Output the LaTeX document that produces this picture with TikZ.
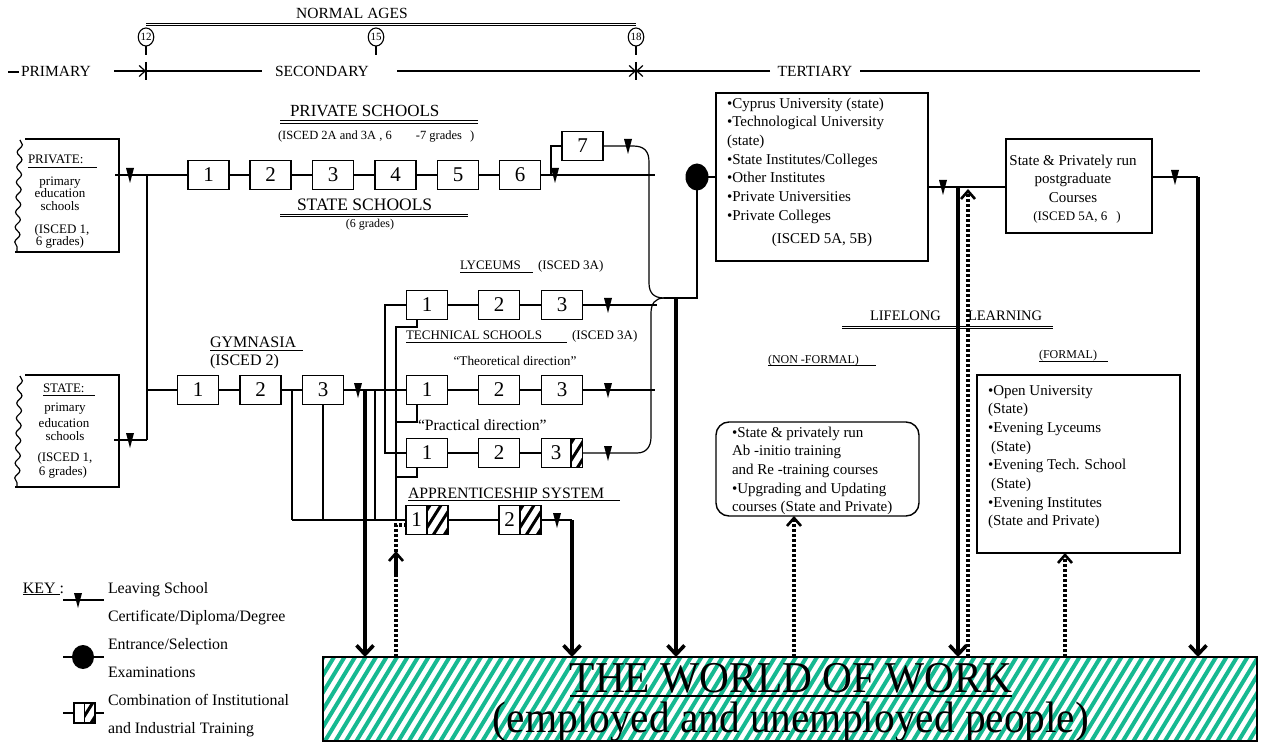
\documentclass[tikz,border=0pt]{standalone}
\usepackage{fontspec}
\setmainfont{Liberation Serif}
\usetikzlibrary{arrows.meta,decorations.pathmorphing,shapes.geometric,calc}
\definecolor{hatchgreen}{RGB}{22,185,145}
\newcommand{\fsz}[2]{\fontsize{#1}{#2}\selectfont}
\newcommand{\bhatch}[4]{%
  \begin{scope}
    \clip (#1,#2) rectangle (#3,#4);
    \foreach \k in {-40,-29,...,40} \draw[line width=3pt] (#1+\k,#4+4) -- ++(24,-38);
  \end{scope}}
\begin{document}
\begin{tikzpicture}[x=1pt,y=-1pt,
  every node/.style={inner sep=0pt,outer sep=0pt},
  grade/.style={draw,line width=1.3pt,minimum width=41pt,minimum height=29pt,font=\fsz{21}{21}},
  conn/.style={line width=1.2pt},
  boxframe/.style={draw,line width=1.4pt},
  bigarrow/.style={line width=3.6pt,-{Straight Barb[length=9pt,width=17pt]}},
  dotline/.style={line width=3.4pt,dash pattern=on 3pt off 2pt},
  dotarrow/.style={dotline,-{Straight Barb[length=8pt,width=14pt,line width=2.6pt]}},
  rulerarrow/.style={line width=1.2pt,-{Straight Barb[length=6pt,width=11pt]}},
  dblline/.style={line width=1pt,double,double distance=1.3pt},
  agecirc/.style={draw,ellipse,line width=1.1pt,minimum width=15pt,minimum height=18pt,font=\fsz{11}{11}},
  ulin/.style={line width=0.8pt},
  t12/.style={font=\fsz{12}{12}},
  t13/.style={font=\fsz{13}{13}},
  t15/.style={font=\fsz{15.5}{15.5}},
  t16/.style={font=\fsz{16}{16}},
  worldtxt/.style={font=\fsz{44}{44},xscale=0.94},
  leavemark/.pic={\fill (-4,-7) -- (4,-7) -- (0,8) -- cycle;}
]
\path[use as bounding box] (0,0) rectangle (1262,746);
\fill[white] (0,0) rectangle (1262,746);

% ---------------- world of work (background hatch first)
\begin{scope}
  \clip (323,657) rectangle (1257,741);
  \foreach \i in {0,...,96} \draw[hatchgreen,line width=4pt] (270+\i*10.5,745) -- ++(56,-92);
\end{scope}
\node[boxframe,anchor=north west,minimum width=934pt,minimum height=84pt] (world) at (323,657) {};
\node[worldtxt,anchor=base] (wt1) at (791,692) {THE WORLD OF WORK};
\draw[line width=1.5pt] (570,696) -- (1012,696);
\node[worldtxt,anchor=base] (wt2) at (791,732) {(employed and unemployed people)};

% ---------------- ruler
\def\R{71}
\node[t15] (na) at (352,13) {NORMAL AGES};
\draw[dblline] (146,24.5) -- (636,24.5);
\node[agecirc] (c12) at (146,37) {12};
\node[agecirc] (c15) at (376,37) {15};
\node[agecirc] (c18) at (636,37) {18};
\foreach \c in {c12,c15,c18} \draw[line width=1.8pt] (\c.south) -- ++(0,9);
\draw[conn] (8,\R+1) -- (19,\R+1);
\node[t15,anchor=west] (prim) at (21,\R) {PRIMARY};
\draw[rulerarrow] (114,\R) -- (146,\R);
\draw[line width=1.4pt] (146,\R-9) -- (146,\R+9);
\draw[conn] (146,\R) -- (262,\R);
\node[t15] (sec) at (322,\R) {SECONDARY};
\draw[rulerarrow] (397,\R) -- (636,\R);
\draw[rulerarrow] (770,\R) -- (636,\R);
\draw[line width=1.4pt] (636,\R-9) -- (636,\R+9);
\node[t15] (ter) at (815,\R) {TERTIARY};
\draw[conn] (860,\R) -- (1200,\R);

% ---------------- primary boxes
\draw[boxframe] (25,139) -- (119,139) -- (119,252) -- (15,252);
\draw[line width=1.2pt,decorate,decoration={snake,amplitude=2.5pt,segment length=15pt}] (20,140) -- (17,251);
\node[t13,anchor=base west] (privl) at (28,164) {PRIVATE:};
\draw[ulin] (28,167) -- (97,167);
\node[t13,anchor=base] at (60,186) {primary};
\node[t13,anchor=base] at (60,198) {education};
\node[t13,anchor=base] at (60,211) {schools};
\node[t13,anchor=base] at (62,234) {(ISCED 1,};
\node[t13,anchor=base] at (60,246) {6 grades)};

\draw[boxframe] (25,375) -- (119,375) -- (119,487) -- (15,487);
\draw[line width=1.2pt,decorate,decoration={snake,amplitude=2.5pt,segment length=15pt}] (20,376) -- (17,486);
\node[t13,anchor=base west] (statel) at (43,392) {STATE:};
\draw[ulin] (43,395) -- (95,395);
\node[t13,anchor=base] at (65,411) {primary};
\node[t13,anchor=base] at (64,427) {education};
\node[t13,anchor=base] at (65,440) {schools};
\node[t13,anchor=base] at (65,461) {(ISCED 1,};
\node[t13,anchor=base] at (63,475) {6 grades)};

% ---------------- private / state secondary schools
\node[font=\fsz{17}{17},anchor=base west] at (290,117) {PRIVATE SCHOOLS};
\draw[dblline] (280,122) -- (478,122);
\node[font=\fsz{12.5}{12.5},anchor=base west] at (278,140) {(ISCED 2A and 3A , 6\hspace{24pt}-7 grades\hspace{8pt})};
\node[font=\fsz{17.5}{17.5},anchor=base west] at (297,211) {STATE SCHOOLS};
\draw[dblline] (280,215.5) -- (468,215.5);
\node[t12,anchor=base] at (370,228) {(6 grades)};

\node[grade] (p1) at (208.5,175) {1};
\node[grade] (p2) at (270.5,175) {2};
\node[grade] (p3) at (333,175) {3};
\node[grade] (p4) at (395.5,175) {4};
\node[grade] (p5) at (458,175) {5};
\node[grade] (p6) at (520,175) {6};
\node[grade] (p7) at (582.5,146) {7};

\draw[conn] (115,175) -- (p1.west);
\pic at (130,175) {leavemark};
\draw[conn] (147,175) -- (147,440);
\draw[conn] (114,440) -- (147,440);
\pic at (130,440) {leavemark};
\draw[conn] (p1.east) -- (p2.west) (p2.east) -- (p3.west) (p3.east) -- (p4.west)
            (p4.east) -- (p5.west) (p5.east) -- (p6.west);
\draw[conn] (p6.east) -- (655,175);
\pic at (555,175) {leavemark};
\draw[conn] (551,175) |- (p7.west);
\pic at (628,146) {leavemark};

% ---------------- gymnasia
\node[t16,anchor=base west] at (210,348) {GYMNASIA};
\draw[ulin] (210,350.5) -- (303,350.5);
\node[t16,anchor=base west] at (210,366) {(ISCED 2)};
\node[grade] (g1) at (198,390) {1};
\node[grade] (g2) at (260.5,390) {2};
\node[grade] (g3) at (323,390) {3};
\draw[conn] (147,390) -- (g1.west);
\draw[conn] (g1.east) -- (g2.west) (g2.east) -- (g3.west);

% ---------------- lyceums / technical
\node[t13,anchor=base west] at (460,270) {LYCEUMS};
\draw[ulin] (460,272.5) -- (533,272.5);
\node[t13,anchor=base west] at (538,270) {(ISCED 3A)};
\node[t13,anchor=base west] at (406,340) {TECHNICAL SCHOOLS};
\draw[ulin] (406,342.5) -- (567,342.5);
\node[t13,anchor=base west] at (572,340) {(ISCED 3A)};
\node[font=\fsz{13.3}{13.3},anchor=base] at (515,365) {“Theoretical direction”};
\node[font=\fsz{15.7}{15.7},anchor=base west] at (418,430) {“Practical direction”};

\node[grade] (l1) at (427,305) {1};
\node[grade] (l2) at (499,305) {2};
\node[grade] (l3) at (562,305) {3};
\node[grade] (t1) at (427,390) {1};
\node[grade] (t2) at (499,390) {2};
\node[grade] (t3) at (562,390) {3};
\node[grade] (r1) at (427,453) {1};
\node[grade] (r2) at (499,453) {2};
\node[grade] (r3) at (562,453) {};
\node[font=\fsz{21}{21}] at (556,453) {3};
\bhatch{571}{439.5}{582.5}{467.5}
\draw[line width=1.3pt] (571,438.5) -- (571,467.5);
\node[grade] at (562,453) {};

\draw[conn] (l1.east) -- (l2.west) (l2.east) -- (l3.west);
\draw[conn] (t1.east) -- (t2.west) (t2.east) -- (t3.west);
\draw[conn] (r1.east) -- (r2.west) (r2.east) -- (r3.west);
\draw[conn] (l3.east) -- (657,305);
\draw[conn] (t3.east) -- (655,390);
\pic at (608,305) {leavemark};
\pic at (608,390) {leavemark};
\pic at (608,453) {leavemark};

% brace shaped junction
\draw[conn] (p7.east) -- (633,146) .. controls (644,146) and (649,151) .. (649,162)
   -- (649,283) .. controls (649,293) and (654,298) .. (664,298);
\draw[conn] (664,298) .. controls (655,298) and (651,304) .. (651,313)
   -- (651,437) .. controls (651,447) and (646,453) .. (637,453) -- (r3.east);
\node[fill,ellipse,minimum width=23pt,minimum height=27pt] (ex) at (697,177) {};
\draw[conn] (664,298) -- (697,298) -- (ex.center);

% gymnasia exits
\draw[conn] (g3.east) -- (t1.west);
\pic at (358,390) {leavemark};
\draw[conn] (l1.west) -- (385,305) -- (385,453) -- (r1.west);
\draw[conn] (417,0 |- l1.south) -- (417,327) -- (396,327) -- (396,520);
\draw[conn] (417,0 |- t1.south) -- (417,422) -- (396,422);
\draw[conn] (417,0 |- r1.south) -- (417,477) -- (396,477);
\draw[conn] (292,390) -- (292,520);
\draw[conn] (g3.south) -- (323,520);
\draw[conn] (375,390) -- (375,520);

% ---------------- apprenticeship
\node[font=\fsz{15.8}{15.8},anchor=base west] at (408,498) {APPRENTICESHIP SYSTEM};
\draw[ulin] (408,500.5) -- (620,500.5);
\node[grade,minimum width=42pt] (a1) at (427,520) {};
\node[font=\fsz{21}{21}] at (416.5,520) {1};
\bhatch{427}{505.5}{448}{534.5}
\node[grade,minimum width=42pt] at (427,520) {};
\draw[line width=1.3pt] (427,505.5) -- (427,534.5);
\node[grade,minimum width=42pt] (a2) at (520,520) {};
\node[font=\fsz{21}{21}] at (509.5,520) {2};
\bhatch{520}{505.5}{541}{534.5}
\node[grade,minimum width=42pt] at (520,520) {};
\draw[line width=1.3pt] (520,505.5) -- (520,534.5);
\draw[conn] (292,520) -- (a1.west);
\draw[conn] (a1.east) -- (a2.west);
\draw[conn] (a2.east) -- (572,520);
\pic at (557,520) {leavemark};

% ---------------- tertiary
\node[boxframe,anchor=north west,minimum width=212pt,minimum height=168pt] (tert) at (716,93) {};
\node[anchor=north west,align=left,font=\fsz{15}{18.7}] (terttxt) at (727,95)
  {\strut•Cyprus University (state)\\•Technological University\\(state)\\•State Institutes/Colleges\\•Other Institutes\\•Private Universities\\•Private Colleges};
\node[font=\fsz{15}{15},anchor=base] at (822,244) {(ISCED 5A, 5B)};
\draw[conn] (ex.center) -- (tert.west |- ex.center);

\node[boxframe,anchor=north west,minimum width=146pt,minimum height=94pt] (pg) at (1006,139) {};
\node[anchor=north,align=center,font=\fsz{15}{18.7}] (pgtxt) at (1073,152) {\strut State \& Privately run\\postgraduate\\Courses};
\node[t13,anchor=base] at (1077,221) {(ISCED 5A, 6\hspace{9pt})};
\draw[conn] (tert.east |- 0,187) -- (pg.west |- 0,187);
\pic at (943,187) {leavemark};
\draw[conn] (pg.east |- 0,177) -- (1198,177);
\pic at (1175,177) {leavemark};

% ---------------- lifelong learning
\node[font=\fsz{14.5}{14.5},anchor=base west] at (870,320) {LIFELONG};
\node[font=\fsz{14.5}{14.5},anchor=base west] at (968,320) {LEARNING};
\draw[dblline] (842,327.5) -- (1053,327.5);
\node[t12,anchor=base west] at (768,363) {(NON -FORMAL)};
\draw[ulin] (768,365.5) -- (876,365.5);
\node[t12,anchor=base west] at (1039,359) {(FORMAL)};
\draw[ulin] (1039,361.5) -- (1108,361.5);

\node[boxframe,rounded corners=13pt,anchor=north west,minimum width=203pt,minimum height=94pt] (nf) at (716,422) {};
\node[anchor=north west,align=left,font=\fsz{15}{18.7}] at (732,424)
  {\strut•State \& privately run\\Ab -initio training\\and Re -training courses\\•Upgrading and Updating\\courses (State and Private)};
\node[boxframe,anchor=north west,minimum width=203pt,minimum height=178pt] (fm) at (977,375) {};
\node[anchor=north west,align=left,font=\fsz{15}{18.7}] at (988,382)
  {\strut•Open University\\(State)\\•Evening Lyceums\\\hspace*{3pt}(State)\\•Evening Tech. School\\\hspace*{3pt}(State)\\•Evening Institutes\\(State and Private)};

% ---------------- arrows to/from the world of work
\draw[bigarrow] (365,390) -- (365,0 |- world.north);
\draw[bigarrow] (572,520) -- (572,0 |- world.north);
\draw[bigarrow] (676,298) -- (676,0 |- world.north);
\draw[bigarrow] (958,187) -- (958,0 |- world.north);
\draw[bigarrow] (1198,177) -- (1198,0 |- world.north);
\draw[dotline] (396,0 |- world.north) -- (396,525) -- (a1.west |- 0,525);
\draw[dotarrow] (396,575) -- (396,551);
\draw[dotarrow] (794,0 |- world.north) -- (794,0 |- nf.south);
\draw[dotarrow] (968,0 |- world.north) -- (968,189);
\draw[dotarrow] (1065,0 |- world.north) -- (1065,0 |- fm.south);

% ---------------- key
\node[font=\fsz{15.9}{15.9},anchor=base west] (key) at (23,593) {\underline{KEY\ }:};
\draw[conn] (63,600) -- (104,600);
\pic at (78,600) {leavemark};
\draw[conn] (63,657) -- (104,657);
\node[fill,ellipse,minimum width=22pt,minimum height=24pt] (kex) at (83,657) {};
\draw[conn] (63,713) -- (104,713);
\node[fill=white,minimum width=21pt,minimum height=20pt] (kcomb) at (84.5,713) {};
\bhatch{84.5}{703}{95}{723}
\node[draw,line width=1.3pt,minimum width=21pt,minimum height=20pt] at (84.5,713) {};
\draw[line width=1.3pt] (84.5,703) -- (84.5,723);
\node[anchor=north west,align=left,font=\fsz{15.9}{28}] (keytxt) at (108,573.4)
  {\strut Leaving School\\Certificate/Diploma/Degree\\Entrance/Selection\\Examinations\\Combination of Institutional\\and Industrial Training};
\end{tikzpicture}
\end{document}
